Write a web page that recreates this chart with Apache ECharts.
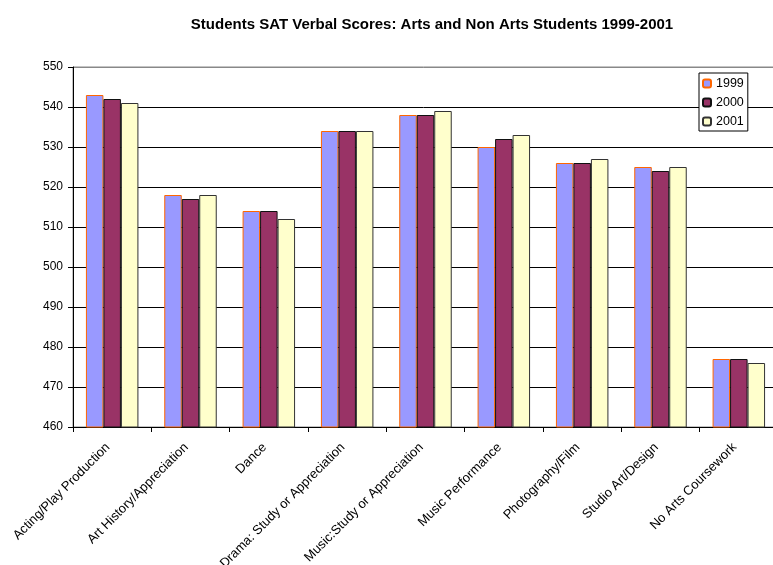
<!DOCTYPE html>
<html><head><meta charset="utf-8">
<script src="https://cdn.jsdelivr.net/npm/echarts@6/dist/echarts.min.js"></script>
<style>html,body{margin:0;padding:0;background:#fff}#c{width:773px;height:565px}</style>
</head><body><div id="c"></div>
<script>
const categories = ["Acting/Play Production","Art History/Appreciation","Dance","Drama: Study or Appreciation","Music:Study or Appreciation","Music Performance","Photography/Film","Studio Art/Design","No Arts Coursework"];
const years = ["1999","2000","2001"];
const s1999 = [543,518,514,534,538,530,526,525,477];
const s2000 = [542,517,514,534,538,532,526,524,477];
const s2001 = [541,518,512,534,539,533,527,525,476];
const yMin = 460, yMax = 550, yStep = 10;

const fills = ['#9999FF','#993366','#FFFFCC'];
const borders = ['#FF6600','#111111','#333333'];
const data = [s1999, s2000, s2001];
const font = '"Liberation Sans", Arial, sans-serif';

const chart = echarts.init(document.getElementById('c'));
chart.setOption({
  animation: false,
  textStyle: {fontFamily: font},
  title: {
    text: 'Students SAT Verbal Scores: Arts and Non Arts Students 1999-2001',
    left: 427, top: 12, textAlign: 'center',
    textStyle: {fontSize: 15, fontWeight: 'bold', color: '#000', fontFamily: font}
  },
  legend: {
    orient: 'vertical', left: 699, top: 73,
    data: years,
    itemWidth: 8, itemHeight: 8, itemGap: 6,
    padding: [4, 4, 3, 3],
    borderColor: '#000', borderWidth: 1, backgroundColor: '#fff',
    textStyle: {fontSize: 12.5, color: '#000', fontFamily: font}
  },
  grid: {left: 73, top: 67, width: 705, height: 360, show: true, borderColor: '#888', borderWidth: 1,
         containLabel: false, outerBoundsMode: 'none'},
  xAxis: {
    type: 'category', data: categories,
    axisLine: {lineStyle: {color: '#000'}},
    axisTick: {show: true, length: 5, lineStyle: {color: '#000'}},
    axisLabel: {rotate: 45, fontSize: 13, color: '#000', margin: 14, padding: [0, 6, 0, 0], interval: 0, fontFamily: font},
    splitLine: {show: false}
  },
  yAxis: {
    type: 'value', min: yMin, max: yMax, interval: yStep,
    axisLine: {show: true, lineStyle: {color: '#000'}},
    axisTick: {show: true, length: 5, lineStyle: {color: '#000'}},
    axisLabel: {fontSize: 12, color: '#000', margin: 10, fontFamily: font},
    splitLine: {show: true, lineStyle: {color: ['#000','#000','#000','#000','#000','#000','#000','#000','#000','#888'], width: 1}}
  },
  series: years.map((y, i) => ({
    name: y, type: 'bar', data: data[i],
    barGap: '0%', barCategoryGap: '33%',
    itemStyle: {color: fills[i], borderColor: borders[i], borderWidth: 1}
  }))
});
</script></body></html>
